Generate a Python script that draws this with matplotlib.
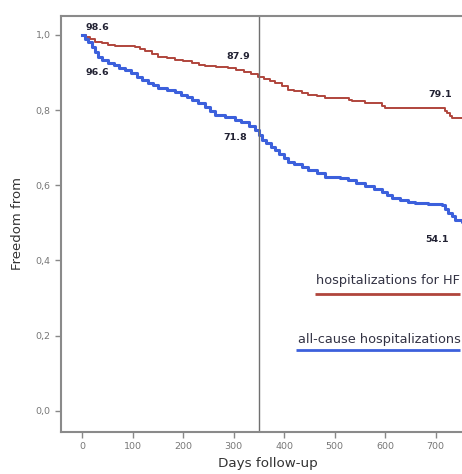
import matplotlib
matplotlib.use('Agg')
import matplotlib.pyplot as plt

# freedom from hospitalizations for HF (days, value)
hf_days = [0, 8, 15, 26, 40, 52, 65, 85, 105, 115, 125, 138, 150, 167, 184, 200, 218, 232, 244,
           265, 289, 305, 320, 335, 349, 360, 372, 382, 395, 408, 420, 435, 448, 465, 481, 521,
           528, 535, 560, 586, 593, 600, 713, 718, 723, 728, 733, 770]
hf_surv = [1.0, 0.994, 0.989, 0.982, 0.977, 0.974, 0.971, 0.969, 0.967, 0.962, 0.956, 0.949,
           0.942, 0.938, 0.934, 0.930, 0.925, 0.920, 0.916, 0.914, 0.912, 0.906, 0.900, 0.895,
           0.889, 0.883, 0.877, 0.872, 0.864, 0.854, 0.850, 0.845, 0.840, 0.836, 0.832, 0.832,
           0.827, 0.823, 0.820, 0.818, 0.811, 0.805, 0.805, 0.798, 0.792, 0.785, 0.778, 0.778]

# freedom from all-cause hospitalizations
ac_days = [0, 6, 12, 20, 26, 32, 40, 51, 62, 73, 85, 97, 108, 119, 130, 140, 150, 167, 184, 195,
           207, 218, 230, 244, 253, 263, 283, 303, 315, 330, 343, 350, 356, 364, 373, 382, 390,
           399, 408, 420, 435, 448, 465, 481, 495, 510, 527, 543, 560, 577, 594, 604, 614, 630,
           645, 659, 685, 713, 719, 725, 732, 739, 752, 770]
ac_surv = [1.0, 0.99, 0.98, 0.968, 0.955, 0.941, 0.934, 0.926, 0.919, 0.913, 0.907, 0.898, 0.889,
           0.880, 0.872, 0.866, 0.859, 0.853, 0.848, 0.841, 0.834, 0.827, 0.818, 0.809, 0.798,
           0.787, 0.781, 0.774, 0.768, 0.757, 0.747, 0.734, 0.721, 0.712, 0.703, 0.694, 0.684,
           0.673, 0.663, 0.657, 0.648, 0.641, 0.632, 0.623, 0.623, 0.619, 0.614, 0.605, 0.597,
           0.590, 0.583, 0.575, 0.566, 0.561, 0.556, 0.552, 0.550, 0.548, 0.537, 0.527, 0.517,
           0.508, 0.503, 0.503]

lbl_x = [30, 30, 309, 303, 709, 703]
lbl_y = [1.019, 0.899, 0.941, 0.726, 0.840, 0.457]
lbl_txt = ['98.6', '96.6', '87.9', '71.8', '79.1', '54.1']

red = '#b0453c'
blue = '#3c60dc'

fig = plt.figure(figsize=(4.62, 4.74), dpi=100)
ax = fig.add_axes([61 / 462, 42 / 474, 410 / 462, 416 / 474])

ax.step(hf_days, hf_surv, where='post', color=red, lw=1.4)
ax.step(ac_days, ac_surv, where='post', color=blue, lw=2.2)
ax.axvline(351, color='#707070', lw=1.0)

for x, y, t in zip(lbl_x, lbl_y, lbl_txt):
    ax.text(x, y, t, fontsize=6.8, fontweight='bold', color='#222233', ha='center', va='center')

# in-plot legend
ax.text(749, 0.348, 'hospitalizations for HF', fontsize=9.3, color='#333344', ha='right', va='center')
ax.plot([461, 749], [0.311, 0.311], color=red, lw=2.0, solid_capstyle='butt')
ax.text(749, 0.191, 'all-cause hospitalizations', fontsize=9.3, color='#333344', ha='right', va='center')
ax.plot([424, 749], [0.162, 0.162], color=blue, lw=2.0, solid_capstyle='butt')

ax.set_xlim(-42, 770)
ax.set_ylim(-0.056, 1.05)
ax.set_xticks([0, 100, 200, 300, 400, 500, 600, 700])
ax.set_yticks([0.0, 0.2, 0.4, 0.6, 0.8, 1.0])
ax.set_yticklabels(['0,0', '0,2', '0,4', '0,6', '0,8', '1,0'])
ax.tick_params(labelsize=6.8, labelcolor='#777777', color='#888888', length=4, width=1)
for s in ['left', 'bottom', 'top']:
    ax.spines[s].set_color('#8a8a8a')
    ax.spines[s].set_linewidth(1.5)
ax.spines['right'].set_visible(False)

ax.set_xlabel('Days follow-up', fontsize=9.7, color='#333333')
ax.xaxis.set_label_coords((268 - 61) / 410, -(457 - 432) / 416)
ax.set_ylabel('Freedom from', fontsize=9.5, color='#333333')
ax.yaxis.set_label_coords(-(61 - 24) / 410, (432 - 223) / 416)

fig.savefig('out.png', dpi=100)
